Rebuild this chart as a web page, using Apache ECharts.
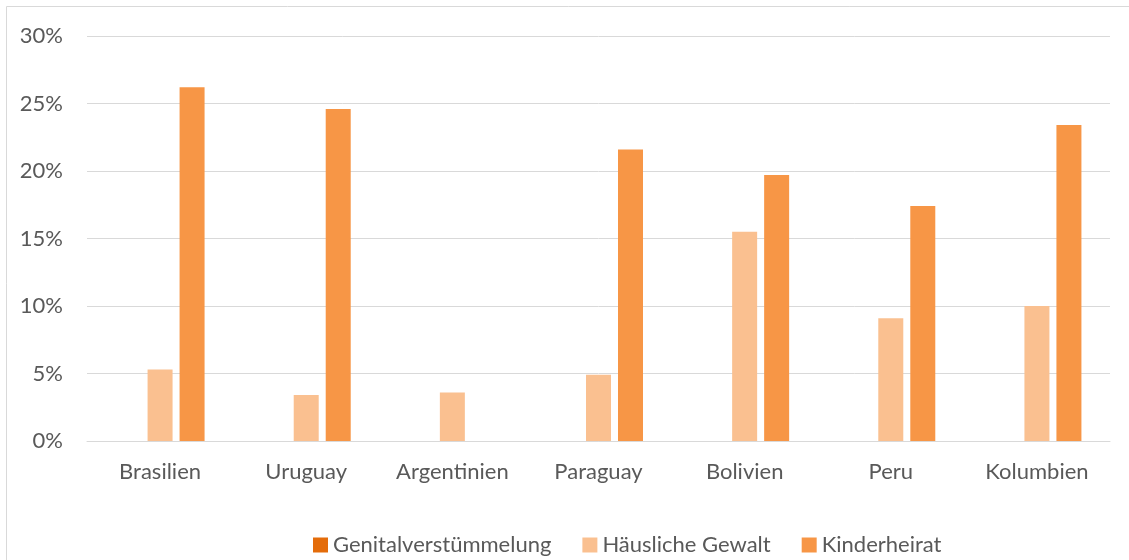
<!DOCTYPE html>
<html>
<head>
<meta charset="utf-8">
<script src="https://cdn.jsdelivr.net/npm/echarts@6/dist/echarts.min.js"></script>
<style>
  html, body { margin: 0; padding: 0; background: #fff; }
  #main { width: 1129px; height: 560px; }
</style>
</head>
<body>
<div id="main"></div>
<script>
// Länder
var countries = ['Brasilien', 'Uruguay', 'Argentinien', 'Paraguay', 'Bolivien', 'Peru', 'Kolumbien'];
// Anteile in %
var genital = [0, 0, 0, 0, 0, 0, 0];
var gewalt = [5.3, 3.4, 3.6, 4.9, 15.5, 9.1, 10.0];
var kinderheirat = [26.2, 24.6, 0, 21.6, 19.7, 17.4, 23.4];
var seriesNames = ['Genitalverstümmelung', 'Häusliche Gewalt', 'Kinderheirat'];
var colors = ['#E46C0A', '#FAC090', '#F79646'];

var font = 'Lato';
var myChart = echarts.init(document.getElementById('main'));
myChart.setOption({
  animation: false,
  color: colors,
  textStyle: { fontFamily: font },
  grid: { left: 87, right: 19, top: 36, bottom: 119, containLabel: false },
  legend: {
    bottom: -1,
    left: 308,
    itemWidth: 15,
    itemHeight: 15,
    itemGap: 31,
    icon: 'rect',
    textStyle: { color: '#595959', fontSize: 22, fontFamily: font },
    data: seriesNames
  },
  graphic: [{
    type: 'rect',
    shape: { x: 6.5, y: 6.5, width: 1140, height: 570 },
    style: { fill: 'none', stroke: '#d9d9d9', lineWidth: 1 },
    silent: true
  }],
  xAxis: {
    type: 'category',
    data: countries,
    axisLine: { lineStyle: { color: '#d9d9d9', width: 1 } },
    axisTick: { show: false },
    axisLabel: { color: '#595959', fontSize: 22, margin: 20, fontFamily: font, interval: 0 }
  },
  yAxis: {
    type: 'value',
    min: 0,
    max: 30,
    interval: 5,
    axisLine: { show: false },
    axisTick: { show: false },
    splitLine: { lineStyle: { color: '#d9d9d9', width: 1 } },
    axisLabel: {
      color: '#595959',
      fontSize: 22,
      margin: 24,
      fontFamily: font,
      formatter: function (v) { return v + '%'; }
    }
  },
  series: [
    { name: seriesNames[0], type: 'bar', data: genital, barWidth: 25, barGap: '28%' },
    { name: seriesNames[1], type: 'bar', data: gewalt, barWidth: 25, barGap: '28%' },
    { name: seriesNames[2], type: 'bar', data: kinderheirat, barWidth: 25, barGap: '28%' }
  ]
});
</script>
</body>
</html>
